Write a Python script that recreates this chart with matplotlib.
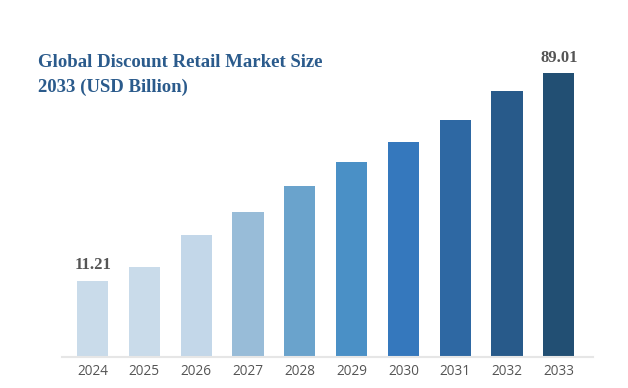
import matplotlib.pyplot as plt

years = ['2024', '2025', '2026', '2027', '2028', '2029', '2030', '2031', '2032', '2033']
values = [11.21, 16.4, 28.4, 37.0, 46.8, 55.8, 63.3, 71.5, 82.5, 89.01]
colors = ['#c9dbea', '#c9dbea', '#c3d7e9', '#98bcd8', '#6aa3cc',
          '#4a90c6', '#3578bd', '#2e68a3', '#285a8a', '#224f73']
base = -17.1

fig = plt.figure(figsize=(6.28, 3.88), dpi=100)
ax = fig.add_axes([62 / 628, 1 - 356.7 / 388, (593 - 62) / 628, (356.7 - 40) / 388])

x = range(len(years))
ax.bar(x, [v - base for v in values], bottom=base, width=0.6, color=colors, zorder=2)
ax.set_xlim(-0.59, 9.66)
ax.set_ylim(base, 101.5)

for spine in ['top', 'right', 'left']:
    ax.spines[spine].set_visible(False)
ax.spines['bottom'].set_color('#e6e6e6')
ax.spines['bottom'].set_linewidth(1.5)
ax.set_yticks([])
ax.set_xticks(list(x))
ax.set_xticklabels(years, fontfamily='Open Sans', fontsize=9.8, color='#555555')
ax.tick_params(axis='x', length=0, pad=5)

for i in [0, len(values) - 1]:
    ax.annotate(f'{values[i]:.2f}', (i, values[i]), xytext=(0, 5.5), textcoords='offset points',
                ha='center', va='bottom', fontfamily='Liberation Serif', fontweight='bold',
                fontsize=12, color='#555555')

fig.text(38 / 628, 1 - 54 / 388, 'Global Discount Retail Market Size\n2033 (USD Billion)',
         ha='left', va='top', fontfamily='Liberation Serif', fontweight='bold',
         fontsize=13.5, color='#2b5b8c', linespacing=1.55)

fig.savefig('out.png', dpi=100)
